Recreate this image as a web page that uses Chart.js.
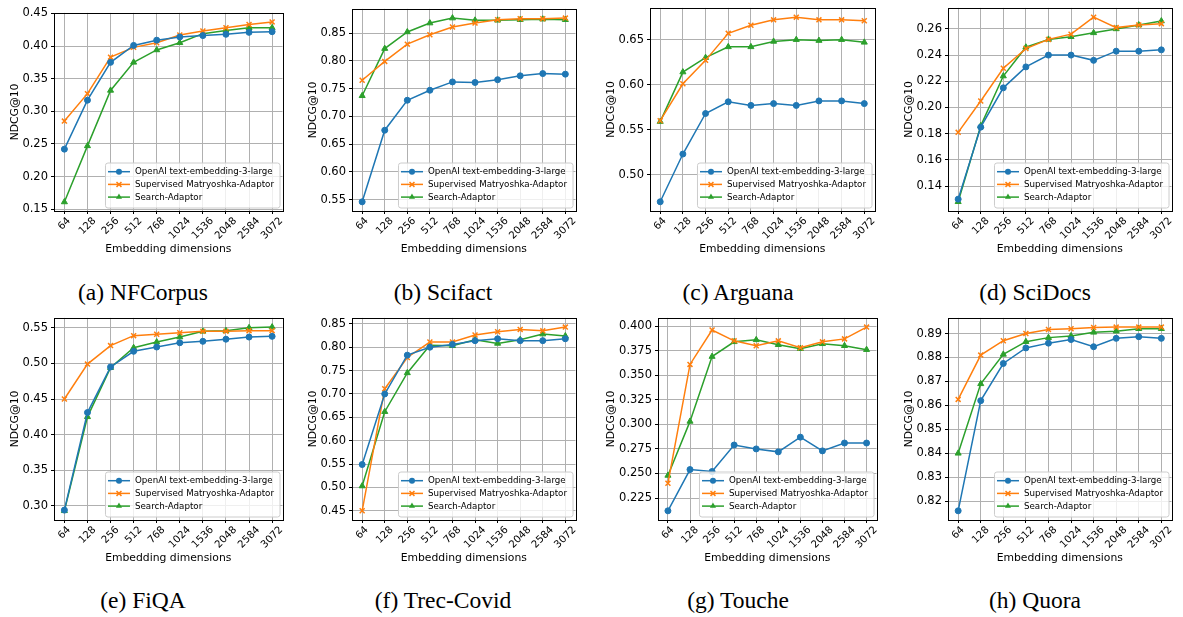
<!DOCTYPE html>
<html>
<head>
<meta charset="utf-8">
<script src="https://cdn.jsdelivr.net/npm/chart.js"></script>
<style>
  body { margin: 0; background: #fff; width: 1183px; height: 617px; position: relative; overflow: hidden; }
  .panel { position: absolute; }
  .cap { position: absolute; font-family: "Liberation Serif", "Times New Roman", serif; font-size: 23.5px;
         line-height: 24px; color: #000; white-space: nowrap; transform: translateX(-50%); }
</style>
</head>
<body>
<script>
// x categories (embedding size) and series names
const dims = ['64', '128', '256', '512', '768', '1024', '1536', '2048', '2584', '3072'];
const seriesNames = ['OpenAI text-embedding-3-large', 'Supervised Matryoshka-Adaptor', 'Search-Adaptor'];
const captions = ['(a) NFCorpus', '(b) Scifact', '(c) Arguana', '(d) SciDocs',
                  '(e) FiQA', '(f) Trec-Covid', '(g) Touche', '(h) Quora'];

// NDCG@10 per dataset
const nfcorpusBase = [0.242, 0.317, 0.375, 0.401, 0.409, 0.414, 0.416, 0.418, 0.421, 0.422];
const nfcorpusMatryoshka = [0.285, 0.327, 0.383, 0.398, 0.405, 0.417, 0.423, 0.428, 0.433, 0.437];
const nfcorpusSearch = [0.161, 0.247, 0.332, 0.375, 0.394, 0.405, 0.419, 0.424, 0.428, 0.428];

const scifactBase = [0.546, 0.675, 0.729, 0.747, 0.762, 0.761, 0.766, 0.773, 0.777, 0.776];
const scifactMatryoshka = [0.765, 0.799, 0.830, 0.847, 0.861, 0.868, 0.874, 0.876, 0.876, 0.877];
const scifactSearch = [0.737, 0.822, 0.852, 0.868, 0.877, 0.873, 0.873, 0.874, 0.875, 0.874];

const arguanaBase = [0.470, 0.523, 0.568, 0.581, 0.577, 0.579, 0.577, 0.582, 0.582, 0.579];
const arguanaMatryoshka = [0.560, 0.601, 0.627, 0.657, 0.666, 0.672, 0.675, 0.672, 0.672, 0.671];
const arguanaSearch = [0.559, 0.614, 0.630, 0.642, 0.642, 0.648, 0.650, 0.649, 0.650, 0.647];

const scidocsBase = [0.130, 0.185, 0.215, 0.231, 0.240, 0.240, 0.236, 0.243, 0.243, 0.244];
const scidocsMatryoshka = [0.181, 0.205, 0.230, 0.245, 0.252, 0.256, 0.269, 0.261, 0.263, 0.264];
const scidocsSearch = [0.128, 0.186, 0.224, 0.246, 0.252, 0.254, 0.257, 0.260, 0.263, 0.266];

const fiqaBase = [0.294, 0.431, 0.495, 0.517, 0.523, 0.529, 0.531, 0.534, 0.537, 0.538];
const fiqaMatryoshka = [0.450, 0.499, 0.525, 0.539, 0.541, 0.543, 0.545, 0.545, 0.546, 0.546];
const fiqaSearch = [0.293, 0.425, 0.494, 0.522, 0.530, 0.537, 0.545, 0.546, 0.550, 0.551];

const trecCovidBase = [0.549, 0.700, 0.783, 0.800, 0.806, 0.814, 0.818, 0.814, 0.814, 0.818];
const trecCovidMatryoshka = [0.450, 0.711, 0.778, 0.811, 0.811, 0.826, 0.833, 0.838, 0.835, 0.843];
const trecCovidSearch = [0.503, 0.662, 0.745, 0.804, 0.803, 0.816, 0.808, 0.816, 0.828, 0.824];

const toucheBase = [0.212, 0.254, 0.252, 0.279, 0.275, 0.272, 0.287, 0.273, 0.281, 0.281];
const toucheMatryoshka = [0.240, 0.361, 0.396, 0.385, 0.380, 0.385, 0.378, 0.384, 0.387, 0.399];
const toucheSearch = [0.248, 0.303, 0.369, 0.384, 0.386, 0.381, 0.377, 0.382, 0.380, 0.376];

const quoraBase = [0.816, 0.862, 0.8775, 0.884, 0.886, 0.8875, 0.8845, 0.888, 0.8887, 0.888];
const quoraMatryoshka = [0.8625, 0.881, 0.887, 0.890, 0.8917, 0.892, 0.8925, 0.8927, 0.8927, 0.8927];
const quoraSearch = [0.840, 0.869, 0.8813, 0.8866, 0.8883, 0.889, 0.8905, 0.891, 0.892, 0.892];

// y tick labels for each panel
const nfcorpusTicks = [0.15, 0.20, 0.25, 0.30, 0.35, 0.40, 0.45];
const scifactTicks = [0.55, 0.60, 0.65, 0.70, 0.75, 0.80, 0.85];
const arguanaTicks = [0.50, 0.55, 0.60, 0.65];
const scidocsTicks = [0.14, 0.16, 0.18, 0.20, 0.22, 0.24, 0.26];
const fiqaTicks = [0.30, 0.35, 0.40, 0.45, 0.50, 0.55];
const trecCovidTicks = [0.45, 0.50, 0.55, 0.60, 0.65, 0.70, 0.75, 0.80, 0.85];
const toucheTicks = [0.225, 0.250, 0.275, 0.300, 0.325, 0.350, 0.375, 0.400];
const quoraTicks = [0.82, 0.83, 0.84, 0.85, 0.86, 0.87, 0.88, 0.89];
const tickDecimals = [2, 2, 2, 2, 2, 2, 3, 2];

const panelSeries = [
  [nfcorpusBase, nfcorpusMatryoshka, nfcorpusSearch],
  [scifactBase, scifactMatryoshka, scifactSearch],
  [arguanaBase, arguanaMatryoshka, arguanaSearch],
  [scidocsBase, scidocsMatryoshka, scidocsSearch],
  [fiqaBase, fiqaMatryoshka, fiqaSearch],
  [trecCovidBase, trecCovidMatryoshka, trecCovidSearch],
  [toucheBase, toucheMatryoshka, toucheSearch],
  [quoraBase, quoraMatryoshka, quoraSearch]
];
const panelTicks = [nfcorpusTicks, scifactTicks, arguanaTicks, scidocsTicks,
                    fiqaTicks, trecCovidTicks, toucheTicks, quoraTicks];

// plot rectangles on the page: [left, top, right, bottom, y-axis width]
const plotRects = [
  [54, 12, 283, 211, 45], [352, 8, 576, 211, 45], [650, 7, 875, 211, 45], [948, 7, 1172, 211, 45],
  [54, 317, 283, 520, 45], [352, 317, 576, 520, 45], [658, 317, 877, 520, 53], [948, 317, 1172, 520, 45]
];
const captionX = [143, 443, 738, 1035];
const captionTop = [280, 588];

const COLORS = ['#1f77b4', '#ff7f0e', '#2ca02c'];
const MARKERS = ['circle', 'crossRot', 'triangle'];
const FONT = 'DejaVu Sans';
const PAD_TOP = 9, PAD_RIGHT = 5, X_AXIS_H = 45;
const XTICK_SIZE = 10.2;

function drawMarker(ctx, style, x, y, color) {
  ctx.save();
  ctx.fillStyle = color;
  ctx.strokeStyle = color;
  ctx.lineWidth = 1.5;
  ctx.beginPath();
  if (style === 'circle') {
    ctx.arc(x, y, 3, 0, Math.PI * 2);
    ctx.fill();
  } else if (style === 'crossRot') {
    const d = 3.5 * Math.SQRT1_2;
    ctx.moveTo(x - d, y - d); ctx.lineTo(x + d, y + d);
    ctx.moveTo(x + d, y - d); ctx.lineTo(x - d, y + d);
    ctx.stroke();
  } else {
    const r = 3.5, s = Math.sin(Math.PI * 2 / 3) * r;
    ctx.moveTo(x, y - r); ctx.lineTo(x + s, y + r / 2); ctx.lineTo(x - s, y + r / 2);
    ctx.closePath();
    ctx.fill();
  }
  ctx.restore();
}

// x tick labels turned 45 degrees, each one centred under its tick
const xLabelPlugin = {
  id: 'xLabels',
  afterDraw(chart) {
    const { ctx, chartArea: a } = chart;
    const xs = chart.scales.x;
    const c = Math.SQRT1_2 / 2;
    const h = XTICK_SIZE * 1.16;
    ctx.save();
    ctx.font = XTICK_SIZE + 'px "' + FONT + '"';
    ctx.fillStyle = '#000';
    ctx.textAlign = 'right';
    ctx.textBaseline = 'middle';
    dims.forEach((label, i) => {
      const len = ctx.measureText(label).width;
      const px = xs.getPixelForValue(i) + c * len;
      const py = a.bottom + 4 + c * h;
      ctx.save();
      ctx.translate(px, py);
      ctx.rotate(-Math.PI / 4);
      ctx.fillText(label, 0, 0);
      ctx.restore();
    });
    ctx.restore();
  }
};

// axes frame plus a legend box in the lower right of the plot
const framePlugin = {
  id: 'frameAndLegend',
  afterDatasetsDraw(chart) {
    const { ctx, chartArea: a } = chart;
    ctx.save();
    ctx.strokeStyle = '#000';
    ctx.lineWidth = 1;
    ctx.strokeRect(Math.round(a.left) + 0.5, Math.round(a.top) + 0.5,
                   Math.round(a.right - a.left), Math.round(a.bottom - a.top));

    ctx.font = '8.7px "' + FONT + '"';
    const textW = Math.max(...seriesNames.map(n => ctx.measureText(n).width));
    const boxW = 2.5 + 22 + 5 + textW + 6;
    const boxH = 45;
    const bx = a.right - 2.5 - boxW;
    const by = a.bottom - 3 - boxH;
    ctx.beginPath();
    ctx.roundRect(bx, by, boxW, boxH, 2.5);
    ctx.fillStyle = 'rgba(255,255,255,0.8)';
    ctx.fill();
    ctx.strokeStyle = '#cccccc';
    ctx.lineWidth = 1;
    ctx.stroke();

    ctx.textBaseline = 'middle';
    seriesNames.forEach((name, i) => {
      const y = by + 8.7 + i * 12.7;
      ctx.strokeStyle = COLORS[i];
      ctx.lineWidth = 1.5;
      ctx.beginPath();
      ctx.moveTo(bx + 2.5, y);
      ctx.lineTo(bx + 24.5, y);
      ctx.stroke();
      drawMarker(ctx, MARKERS[i], bx + 13.5, y, COLORS[i]);
      ctx.fillStyle = '#000';
      ctx.fillText(name, bx + 29.5, y + 0.5);
    });
    ctx.restore();
  }
};

function makePanel(p) {
  const [left, top, right, bottom, axisW] = plotRects[p];
  const canvas = document.createElement('canvas');
  const w = axisW + (right - left) + PAD_RIGHT;
  const h = PAD_TOP + (bottom - top) + X_AXIS_H;
  canvas.width = w;
  canvas.height = h;
  canvas.className = 'panel';
  canvas.style.left = (left - axisW) + 'px';
  canvas.style.top = (top - PAD_TOP) + 'px';
  canvas.style.width = w + 'px';
  canvas.style.height = h + 'px';
  document.body.appendChild(canvas);

  const series = panelSeries[p];
  const all = series.flat();
  const lo = Math.min(...all), hi = Math.max(...all);
  const margin = (hi - lo) * 0.05;
  const yTicks = panelTicks[p];
  const dec = tickDecimals[p];

  new Chart(canvas, {
    type: 'line',
    data: {
      datasets: series.map((vals, k) => ({
        label: seriesNames[k],
        data: vals.map((v, i) => ({ x: i, y: v })),
        borderColor: COLORS[k],
        backgroundColor: COLORS[k],
        borderWidth: 1.5,
        pointStyle: MARKERS[k],
        pointRadius: k === 0 ? 3 : 3.5,
        pointBorderWidth: k === 1 ? 1.5 : 1,
        pointBorderColor: COLORS[k],
        pointBackgroundColor: COLORS[k],
        tension: 0
      }))
    },
    options: {
      responsive: false,
      animation: false,
      devicePixelRatio: 1,
      layout: { padding: { top: PAD_TOP, right: PAD_RIGHT, left: 0, bottom: 0 } },
      plugins: { legend: { display: false }, tooltip: { enabled: false } },
      scales: {
        x: {
          type: 'linear',
          min: -0.45,
          max: 9.45,
          afterBuildTicks: scale => { scale.ticks = dims.map((_, i) => ({ value: i })); },
          afterFit: scale => { scale.height = X_AXIS_H; },
          ticks: { display: false },
          grid: { color: '#b0b0b0', lineWidth: 1, tickLength: 3, tickColor: '#000', drawTicks: true },
          border: { display: false },
          title: { display: true, text: 'Embedding dimensions', color: '#000',
                   font: { family: FONT, size: 10.8 }, padding: { top: 0, bottom: 0 } }
        },
        y: {
          type: 'linear',
          min: lo - margin,
          max: hi + margin,
          afterBuildTicks: scale => { scale.ticks = yTicks.map(v => ({ value: v })); },
          afterFit: scale => { scale.width = axisW; },
          ticks: {
            padding: 3,
            color: '#000',
            font: { family: FONT, size: 11.5 },
            callback: v => v.toFixed(dec)
          },
          grid: { color: '#b0b0b0', lineWidth: 1, tickLength: 3, tickColor: '#000', drawTicks: true },
          border: { display: false },
          title: { display: true, text: 'NDCG@10', color: '#000',
                   font: { family: FONT, size: 10.8 }, padding: { top: 0, bottom: 0 } }
        }
      }
    },
    plugins: [framePlugin, xLabelPlugin]
  });

  const cap = document.createElement('div');
  cap.className = 'cap';
  cap.textContent = captions[p];
  cap.style.left = captionX[p % 4] + 'px';
  cap.style.top = captionTop[Math.floor(p / 4)] + 'px';
  document.body.appendChild(cap);
}

for (let p = 0; p < 8; p++) makePanel(p);
</script>
</body>
</html>
